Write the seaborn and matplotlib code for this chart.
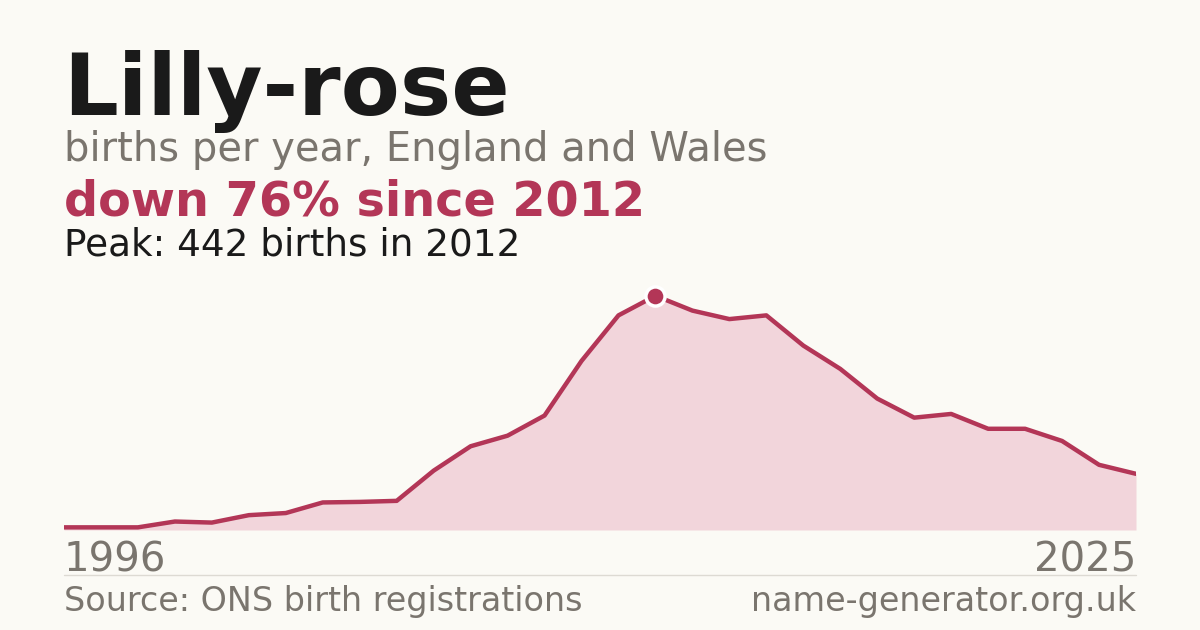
import seaborn as sns
import matplotlib.pyplot as plt
import numpy as np
import pandas as pd

# births per year
years = list(range(1996, 2026))
births = [5, 5, 5, 16, 14, 28, 32, 52, 53, 55,
          112, 158, 178, 216, 319, 405, 442, 414, 398, 405,
          348, 304, 248, 212, 219, 191, 191, 168, 123, 106]
peak_year = 2012
peak_val = 442

BG = '#fbfaf5'
ACCENT = '#b33657'
FILL = '#f2d5db'
GREY = '#7a756e'
DARK = '#1a1a1a'

sns.set_theme(style='white')
plt.rcParams['font.family'] = ['DejaVu Sans']

df = pd.DataFrame({'year': years, 'births': births})

f = plt.figure(figsize=(12, 6.3), dpi=100, facecolor=BG)
W, H = 1200, 630
ax = f.add_axes([64 / W, 1 - 530 / H, (1136 - 64) / W, (530 - 270) / H])
ax.set_facecolor(BG)
ax.fill_between(df['year'], df['births'], 0, color=FILL, linewidth=0)
sns.lineplot(data=df, x='year', y='births', ax=ax, color=ACCENT, linewidth=3.2)
ax.scatter([peak_year], [peak_val], s=190, color=ACCENT, edgecolor='white',
           linewidth=2.5, zorder=5)
ax.set_xlim(years[0], years[-1])
ax.set_ylim(0, peak_val * 1.11)
ax.axis('off')

def txt(px, py, s, size, color, weight='normal', ha='left'):
    f.text(px / W, 1 - py / H, s, fontsize=size, color=color,
           fontweight=weight, ha=ha, va='baseline')

txt(63, 115, 'Lilly-rose', 62, DARK, 'bold')
txt(64, 161, 'births per year, England and Wales', 28.8, GREY)
txt(64, 215, 'down 76% since 2012', 34.4, ACCENT, 'bold')
txt(64, 255, 'Peak: 442 births in 2012', 26.9, DARK)
txt(64, 571, str(years[0]), 29, GREY)
txt(1136, 571, str(years[-1]), 29, GREY, ha='right')
txt(64, 611, 'Source: ONS birth registrations', 24, GREY)
txt(1136, 611, 'name-generator.org.uk', 24, GREY, ha='right')

f.add_artist(plt.Line2D([64 / W, 1136 / W], [1 - 575 / H, 1 - 575 / H],
                        color='#dddad3', linewidth=1))

f.savefig('out.png', dpi=100, facecolor=BG)
